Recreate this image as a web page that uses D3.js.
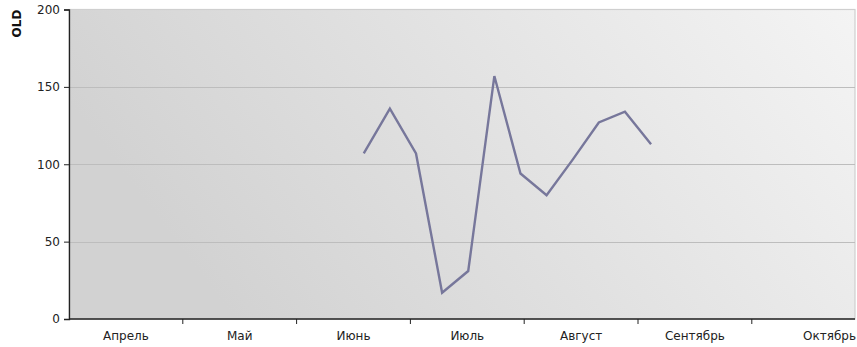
<!DOCTYPE html>
<html>
<head>
<meta charset="utf-8">
<script src="https://cdn.jsdelivr.net/npm/d3@7"></script>
<style>
  html, body { margin: 0; padding: 0; background: #ffffff; }
  svg { display: block; font-family: "DejaVu Sans", Tahoma, sans-serif; }
</style>
</head>
<body>
<svg id="chart" width="857" height="347"></svg>
<script>
// Month categories along the x axis (equal-width bands, starting 1 April)
const months = ["Апрель", "Май", "Июнь", "Июль", "Август", "Сентябрь", "Октябрь"];
// Weekly observations: date and value
const obsDate  = ["2010-06-19", "2010-06-26", "2010-07-03", "2010-07-10", "2010-07-17", "2010-07-24",
                  "2010-07-31", "2010-08-07", "2010-08-14", "2010-08-21", "2010-08-28", "2010-09-04"];
const obsValue = [107, 136, 107, 17, 31, 157, 94, 80, 103, 127, 134, 113];
const yTicks = [0, 50, 100, 150, 200];
const yTitle = "OLD";

const svg = d3.select("#chart");
const W = 857, H = 347;
const m = { left: 69, top: 9.5, right: 2, bottom: 28 };
const plotR = W - m.right, plotB = H - m.bottom;

// One month = one band of fixed width; dates placed by day offset from the start
const bandW = 113.8;
const start = new Date(2010, 3, 1);
const daysPerBand = 30.5;
const x = d3.scaleLinear().domain([0, months.length]).range([m.left, m.left + bandW * months.length]);
const y = d3.scaleLinear().domain([0, 200]).range([plotB, m.top]);
const parse = d3.timeParse("%Y-%m-%d");
const pos = obsDate.map(s => d3.timeDay.count(start, parse(s)) / daysPerBand);

const defs = svg.append("defs");
const grad = defs.append("linearGradient").attr("id", "bg")
  .attr("x1", "0%").attr("y1", "30%").attr("x2", "100%").attr("y2", "0%");
grad.append("stop").attr("offset", "0%").attr("stop-color", "#d2d2d2");
grad.append("stop").attr("offset", "100%").attr("stop-color", "#f4f4f4");
defs.append("clipPath").attr("id", "plotClip").append("rect")
  .attr("x", m.left).attr("y", m.top).attr("width", plotR - m.left).attr("height", plotB - m.top);

// Plot background with its light frame
svg.append("rect")
  .attr("x", m.left).attr("y", m.top)
  .attr("width", plotR - m.left).attr("height", plotB - m.top)
  .attr("fill", "url(#bg)")
  .attr("stroke", "#cfcfcf").attr("stroke-width", 1.2);

// Horizontal gridlines
svg.append("g").selectAll("line").data(yTicks.filter(t => t > 0 && t < 200)).join("line")
  .attr("x1", m.left).attr("x2", plotR)
  .attr("y1", d => Math.round(y(d)) + 0.5).attr("y2", d => Math.round(y(d)) + 0.5)
  .attr("stroke", "#bdbdbd").attr("stroke-width", 1);

// Data line
const line = d3.line().x((d, i) => x(pos[i])).y(d => y(d));
svg.append("path")
  .datum(obsValue)
  .attr("clip-path", "url(#plotClip)")
  .attr("d", line)
  .attr("fill", "none")
  .attr("stroke", "#77779b")
  .attr("stroke-width", 2.4)
  .attr("stroke-linejoin", "miter");

// Y axis
const yAxis = d3.axisLeft(y).tickValues(yTicks).tickSize(5).tickPadding(4);
const gy = svg.append("g").attr("transform", `translate(${m.left},0)`).call(yAxis);
gy.select(".domain").attr("stroke", "#222").attr("stroke-width", 1.3);
gy.selectAll(".tick line").attr("stroke", "#222");
gy.selectAll("text").attr("font-size", 12).attr("fill", "#222").attr("font-family", "DejaVu Sans, sans-serif");

// X axis: ticks at month boundaries, labels centred in each band
// (the last band runs past the right edge, so its label is pinned to the edge)
const gx = svg.append("g").attr("transform", `translate(0,${plotB})`);
gx.append("line").attr("x1", m.left).attr("x2", plotR).attr("y1", 0).attr("y2", 0)
  .attr("stroke", "#222").attr("stroke-width", 1.5);
gx.selectAll("line.tk").data(d3.range(1, months.length)).join("line").attr("class", "tk")
  .attr("x1", d => x(d)).attr("x2", d => x(d)).attr("y1", 0).attr("y2", 5)
  .attr("stroke", "#222");
const last = months.length - 1;
gx.selectAll("text").data(months).join("text")
  .attr("x", (d, i) => i === last ? W - 1 : x(i + 0.5)).attr("y", 21)
  .attr("text-anchor", (d, i) => i === last ? "end" : "middle")
  .attr("font-size", 12).attr("fill", "#222")
  .text(d => d);

// Axis title
svg.append("text")
  .attr("transform", `translate(21,${m.top + 14}) rotate(-90)`)
  .attr("text-anchor", "middle")
  .attr("font-size", 12).attr("font-weight", "bold").attr("fill", "#111")
  .text(yTitle);
</script>
</body>
</html>
